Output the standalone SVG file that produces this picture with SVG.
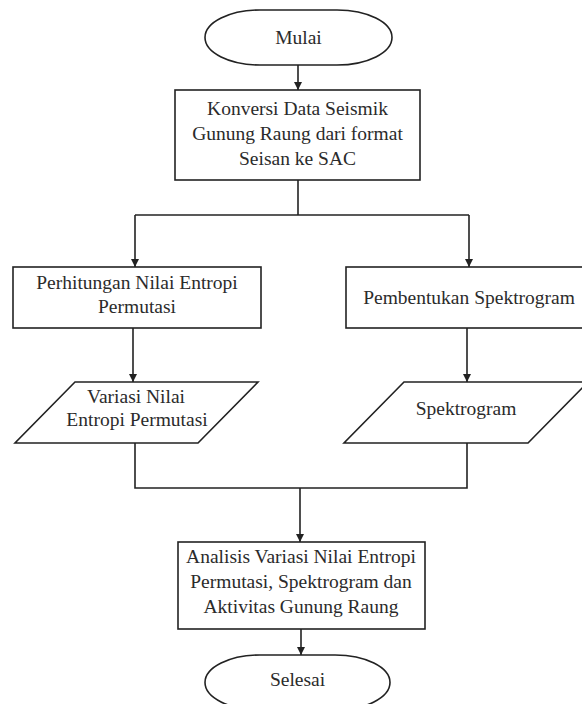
<svg xmlns="http://www.w3.org/2000/svg" width="582" height="704" viewBox="0 0 582 704">
<style>
.s{fill:#fff;stroke:#222;stroke-width:1.6}
.c{fill:none;stroke:#222;stroke-width:1.6}
text{font-family:"Liberation Serif","Times New Roman",serif;font-size:19.5px;fill:#2b2b2b;text-anchor:middle}
</style>
<defs>
<marker id="ah" markerWidth="10" markerHeight="10" refX="8" refY="4" orient="auto" markerUnits="userSpaceOnUse">
<path d="M0,0 L8,4 L0,8 Z" fill="#222"/>
</marker>
</defs>
<rect width="582" height="704" fill="#fff"/>
<g id="connectors">
<path class="c" d="M298,65 V90" marker-end="url(#ah)"/>
<path class="c" d="M298,180 V215"/>
<path class="c" d="M135,215 H469"/>
<path class="c" d="M135,215 V267" marker-end="url(#ah)"/>
<path class="c" d="M469,215 V267" marker-end="url(#ah)"/>
<path class="c" d="M133,328 V382" marker-end="url(#ah)"/>
<path class="c" d="M467,328 V382" marker-end="url(#ah)"/>
<path class="c" d="M135,443 V488 H467 V443"/>
<path class="c" d="M300,488 V542" marker-end="url(#ah)"/>
<path class="c" d="M301,629 V655" marker-end="url(#ah)"/>
</g>
<g id="mulai">
<rect class="s" x="205" y="10" width="187" height="55" rx="55" ry="27.5"/>
<text x="298.5" y="44">Mulai</text>
</g>
<g id="konversi">
<rect class="s" x="175" y="90" width="245" height="90"/>
<text x="297.5" y="115">Konversi Data Seismik</text>
<text x="297.5" y="140">Gunung Raung dari format</text>
<text x="297.5" y="165">Seisan ke SAC</text>
</g>
<g id="perhitungan">
<rect class="s" x="13" y="267" width="248" height="61"/>
<text x="137" y="289">Perhitungan Nilai Entropi</text>
<text x="137" y="313">Permutasi</text>
</g>
<g id="pembentukan">
<rect class="s" x="346" y="267" width="260" height="61"/>
<text x="469" y="304">Pembentukan Spektrogram</text>
</g>
<g id="variasi">
<polygon class="s" points="75,382 258,382 198,443 15,443"/>
<text x="136" y="403">Variasi Nilai</text>
<text x="137" y="426">Entropi Permutasi</text>
</g>
<g id="spektrogram">
<polygon class="s" points="404,382 588,382 528,443 344,443"/>
<text x="466" y="415">Spektrogram</text>
</g>
<g id="analisis">
<rect class="s" x="178" y="542" width="247" height="87"/>
<text x="301" y="563">Analisis Variasi Nilai Entropi</text>
<text x="301" y="588">Permutasi, Spektrogram dan</text>
<text x="301" y="613">Aktivitas Gunung Raung</text>
</g>
<g id="selesai">
<rect class="s" x="205" y="655" width="185" height="55" rx="55" ry="27.5"/>
<text x="297.5" y="686">Selesai</text>
</g>
</svg>
